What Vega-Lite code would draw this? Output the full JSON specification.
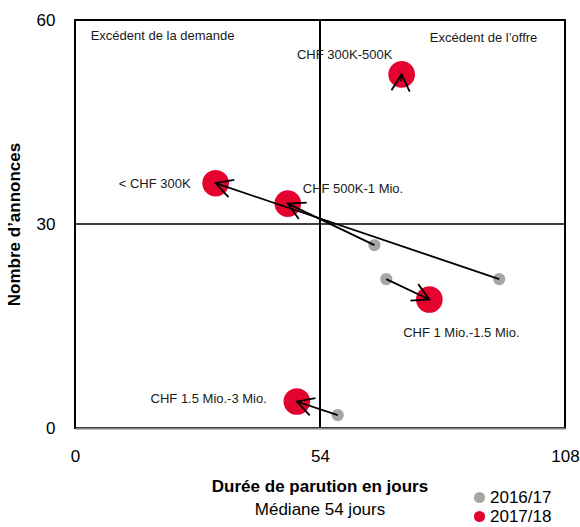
{
  "$schema": "https://vega.github.io/schema/vega-lite/v6.json",
  "width": 490,
  "height": 408,
  "autosize": {"type": "none"},
  "padding": {"left": 75, "top": 20, "right": 15, "bottom": 99},
  "background": "white",
  "config": {
    "font": "Liberation Sans",
    "view": {"stroke": "black", "strokeWidth": 2},
    "legend": {"orient": "none"}
  },
  "title": {
    "text": "Durée de parution en jours",
    "subtitle": "Médiane 54 jours",
    "orient": "bottom",
    "anchor": "middle",
    "frame": "group",
    "fontSize": 17,
    "fontWeight": "bold",
    "color": "black",
    "subtitleFontSize": 17,
    "subtitleFontWeight": "normal",
    "subtitleColor": "black",
    "subtitlePadding": 6,
    "offset": -46
  },
  "data": {
    "values": [
      {"cat": "< CHF 300K", "days_1617": 93.5, "ads_1617": 21.9, "days_1718": 31.0, "ads_1718": 36.0},
      {"cat": "CHF 300K-500K", "days_1617": 71.9, "ads_1617": 51.0, "days_1718": 72.0, "ads_1718": 52.0},
      {"cat": "CHF 500K-1 Mio.", "days_1617": 66.0, "ads_1617": 26.9, "days_1718": 46.9, "ads_1718": 33.0},
      {"cat": "CHF 1 Mio.-1.5 Mio.", "days_1617": 68.6, "ads_1617": 21.9, "days_1718": 78.1, "ads_1718": 18.9},
      {"cat": "CHF 1.5 Mio.-3 Mio.", "days_1617": 57.9, "ads_1617": 1.9, "days_1718": 48.9, "ads_1718": 3.9}
    ]
  },
  "layer": [
    {
      "data": {"values": [{}]},
      "mark": {"type": "rule", "color": "black", "strokeWidth": 2},
      "encoding": {
        "x": {"datum": 54, "type": "quantitative", "scale": {"domain": [0, 108], "nice": false, "zero": false}}
      }
    },
    {
      "data": {"values": [{}]},
      "mark": {"type": "rule", "color": "black", "strokeWidth": 1.5},
      "encoding": {
        "y": {"datum": 30, "type": "quantitative", "scale": {"domain": [0, 60], "nice": false, "zero": false}}
      }
    },
    {
      "mark": {"type": "point", "filled": true, "size": 150, "opacity": 1, "shape": "circle"},
      "encoding": {
        "x": {
          "field": "days_1617", "type": "quantitative",
          "axis": {
            "title": null, "values": [0, 54, 108], "ticks": false, "grid": false,
            "labelFontSize": 17, "labelColor": "black", "labelPadding": 20, "labelFlush": false,
            "labelOverlap": false, "labelBound": false, "domainColor": "#7f7f7f", "domainWidth": 2, "zindex": 1
          }
        },
        "y": {
          "field": "ads_1617", "type": "quantitative",
          "axis": {
            "title": "Nombre d’annonces", "values": [0, 30, 60], "ticks": false, "grid": false,
            "domain": false, "labelFontSize": 17, "labelColor": "black", "labelPadding": 20,
            "labelOverlap": false, "titleFontSize": 17, "titleFontWeight": "bold", "titleColor": "black",
            "titlePadding": 13
          }
        },
        "color": {
          "datum": "2016/17", "type": "nominal",
          "scale": {"domain": ["2016/17", "2017/18"], "range": ["#a6a6a6", "#e4032e"]},
          "legend": {
            "title": null, "orient": "none", "legendX": 396, "legendY": 469,
            "labelFontSize": 17, "labelColor": "black", "symbolType": "circle", "symbolSize": 125,
            "symbolStrokeWidth": 0, "labelOffset": 2, "rowPadding": 1, "padding": 0, "symbolOpacity": 1
          }
        }
      }
    },
    {
      "mark": {"type": "point", "filled": true, "size": 710, "opacity": 1, "shape": "circle"},
      "encoding": {
        "x": {"field": "days_1718", "type": "quantitative"},
        "y": {"field": "ads_1718", "type": "quantitative"},
        "color": {"datum": "2017/18", "type": "nominal"}
      }
    },
    {
      "mark": {"type": "rule", "color": "black", "strokeWidth": 1.8},
      "encoding": {
        "x": {"field": "days_1617", "type": "quantitative"},
        "y": {"field": "ads_1617", "type": "quantitative"},
        "x2": {"field": "days_1718"},
        "y2": {"field": "ads_1718"}
      }
    },
    {
      "transform": [
        {"calculate": "atan2(-(datum.ads_1718 - datum.ads_1617) * 408 / 60, (datum.days_1718 - datum.days_1617) * 490 / 108) * 180 / PI", "as": "ang"}
      ],
      "mark": {"type": "point", "shape": "M-1,-0.55L0,0L-1,0.55", "filled": false, "stroke": "black", "strokeWidth": 1.8, "size": 1100, "opacity": 1, "strokeJoin": "miter"},
      "encoding": {
        "x": {"field": "days_1718", "type": "quantitative"},
        "y": {"field": "ads_1718", "type": "quantitative"},
        "angle": {"field": "ang", "type": "quantitative", "scale": null}
      }
    },
    {
      "data": {"values": [{}]},
      "mark": {"type": "text", "fontSize": 13, "align": "left", "baseline": "middle", "color": "#1a1a1a"},
      "encoding": {
        "x": {"datum": 3.46, "type": "quantitative"},
        "y": {"datum": 57.6, "type": "quantitative"},
        "text": {"value": "Excédent de la demande"}
      }
    },
    {
      "data": {"values": [{}]},
      "mark": {"type": "text", "fontSize": 13, "align": "right", "baseline": "middle", "color": "#1a1a1a"},
      "encoding": {
        "x": {"datum": 101.9, "type": "quantitative"},
        "y": {"datum": 57.4, "type": "quantitative"},
        "text": {"value": "Excédent de l’offre"}
      }
    },
    {
      "transform": [{"filter": "datum.cat === '< CHF 300K'"}],
      "mark": {"type": "text", "fontSize": 13, "align": "right", "baseline": "middle", "dx": -25, "dy": 1, "color": "#1a1a1a"},
      "encoding": {
        "x": {"field": "days_1718", "type": "quantitative"},
        "y": {"field": "ads_1718", "type": "quantitative"},
        "text": {"field": "cat"}
      }
    },
    {
      "transform": [{"filter": "datum.cat === 'CHF 300K-500K'"}],
      "mark": {"type": "text", "fontSize": 13, "align": "center", "baseline": "middle", "dx": -57, "dy": -19, "color": "#1a1a1a"},
      "encoding": {
        "x": {"field": "days_1718", "type": "quantitative"},
        "y": {"field": "ads_1718", "type": "quantitative"},
        "text": {"field": "cat"}
      }
    },
    {
      "transform": [{"filter": "datum.cat === 'CHF 500K-1 Mio.'"}],
      "mark": {"type": "text", "fontSize": 13, "align": "left", "baseline": "middle", "dx": 15, "dy": -15, "color": "#1a1a1a"},
      "encoding": {
        "x": {"field": "days_1718", "type": "quantitative"},
        "y": {"field": "ads_1718", "type": "quantitative"},
        "text": {"field": "cat"}
      }
    },
    {
      "transform": [{"filter": "datum.cat === 'CHF 1 Mio.-1.5 Mio.'"}],
      "mark": {"type": "text", "fontSize": 13, "align": "center", "baseline": "middle", "dx": 32, "dy": 34, "color": "#1a1a1a"},
      "encoding": {
        "x": {"field": "days_1718", "type": "quantitative"},
        "y": {"field": "ads_1718", "type": "quantitative"},
        "text": {"field": "cat"}
      }
    },
    {
      "transform": [{"filter": "datum.cat === 'CHF 1.5 Mio.-3 Mio.'"}],
      "mark": {"type": "text", "fontSize": 13, "align": "right", "baseline": "middle", "dx": -30, "dy": -2, "color": "#1a1a1a"},
      "encoding": {
        "x": {"field": "days_1718", "type": "quantitative"},
        "y": {"field": "ads_1718", "type": "quantitative"},
        "text": {"field": "cat"}
      }
    }
  ]
}
